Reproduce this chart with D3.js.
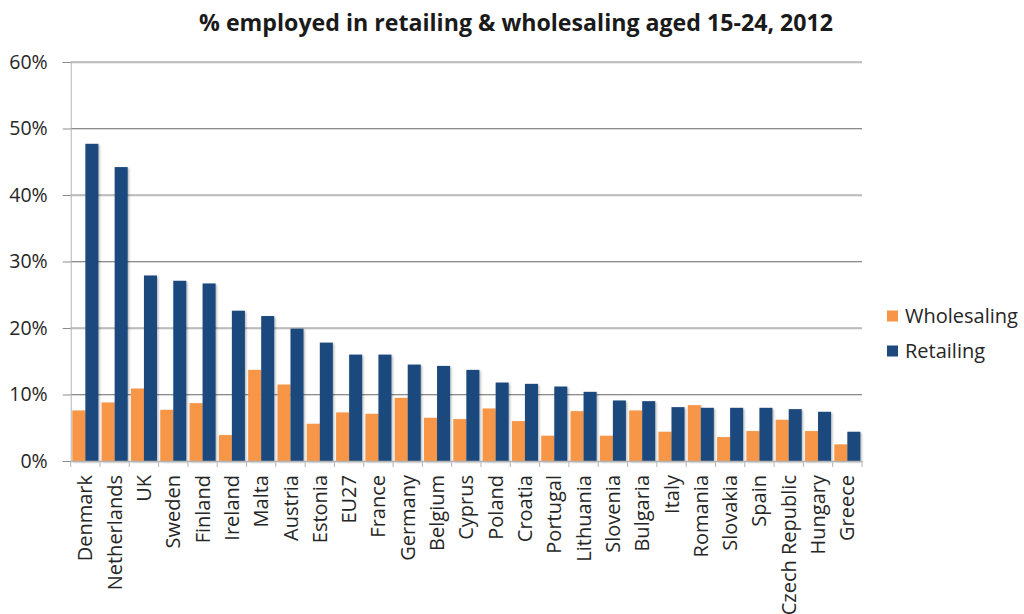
<!DOCTYPE html>
<html>
<head>
<meta charset="utf-8">
<script src="https://cdn.jsdelivr.net/npm/d3@7"></script>
<style>
  html, body { margin: 0; padding: 0; background: #fff; }
  svg { display: block; font-family: "Open Sans", "Noto Sans", sans-serif; }
</style>
</head>
<body>
<svg id="chart" width="1024" height="614"></svg>
<script>
// Share of 15-24 year olds employed in each sector, by country (%)
const countries = ["Denmark","Netherlands","UK","Sweden","Finland","Ireland","Malta","Austria","Estonia","EU27","France","Germany","Belgium","Cyprus","Poland","Croatia","Portugal","Lithuania","Slovenia","Bulgaria","Italy","Romania","Slovakia","Spain","Czech Republic","Hungary","Greece"];
const wholesaling = [7.6,8.8,10.9,7.7,8.7,3.9,13.7,11.5,5.6,7.3,7.1,9.5,6.5,6.3,7.9,6.0,3.8,7.5,3.8,7.6,4.4,8.4,3.6,4.5,6.2,4.5,2.5];
const retailing   = [47.7,44.2,27.9,27.1,26.7,22.6,21.8,19.9,17.8,16.0,16.0,14.5,14.3,13.7,11.8,11.6,11.2,10.4,9.1,9.0,8.1,8.0,8.0,8.0,7.8,7.4,4.4];
const seriesNames = ["Wholesaling","Retailing"];
const seriesColors = ["#F79646","#1F497D"];
const yTicks = [0,10,20,30,40,50,60];
const title = "% employed in retailing & wholesaling aged 15-24, 2012";

const svg = d3.select("#chart");
const margin = {left: 70.7, right: 162, top: 62, bottom: 153};
const W = 1024, H = 614;

// Bar shadow
const defs = svg.append("defs");
const f = defs.append("filter").attr("id","shadow").attr("x","-20%").attr("y","-5%").attr("width","150%").attr("height","115%");
f.append("feDropShadow").attr("dx",1.2).attr("dy",1.2).attr("stdDeviation",0.8).attr("flood-color","#000").attr("flood-opacity",0.3);

const x = d3.scaleBand().domain(countries).range([margin.left, W - margin.right]).paddingInner(0).paddingOuter(0);
const xs = d3.scaleBand().domain(seriesNames).range([0, x.bandwidth()]).paddingInner(0).paddingOuter(0.125);
const y = d3.scaleLinear().domain([0,60]).range([H - margin.bottom, margin.top]);

// Title
svg.append("text")
  .attr("x", 516).attr("y", 31)
  .attr("text-anchor","middle")
  .attr("font-weight","bold")
  .attr("font-size", 23)
  .attr("fill","#1a1a1a")
  .attr("textLength", 634)
  .attr("lengthAdjust","spacingAndGlyphs")
  .text(title);

// Gridlines
const grid = svg.append("g");
grid.selectAll("line.shade").data(yTicks.filter(d => d > 0)).join("line")
  .attr("x1", margin.left).attr("x2", W - margin.right)
  .attr("y1", d => y(d) + 1).attr("y2", d => y(d) + 1)
  .attr("stroke","#d9d9d9").attr("stroke-width",1);
grid.selectAll("line.main").data(yTicks.filter(d => d > 0)).join("line")
  .attr("x1", margin.left).attr("x2", W - margin.right)
  .attr("y1", d => y(d)).attr("y2", d => y(d))
  .attr("stroke","#8c8c8c").attr("stroke-width",1);

// Y axis
const yAxis = svg.append("g").attr("transform", `translate(${margin.left},0)`)
  .call(d3.axisLeft(y).tickValues(yTicks).tickFormat(d => d + "%").tickSize(8).tickPadding(15));
yAxis.select(".domain").attr("stroke","#b3b3b3");
yAxis.selectAll(".tick line").attr("stroke","#8c8c8c");
yAxis.selectAll("text").attr("font-size",19.5).attr("fill","#262626").attr("font-family","Open Sans, sans-serif");

// Bars
const groups = svg.append("g").selectAll("g").data(countries).join("g")
  .attr("transform", d => `translate(${x(d)},0)`);
groups.selectAll("rect").data((d,i) => [
    {s: seriesNames[0], v: wholesaling[i]},
    {s: seriesNames[1], v: retailing[i]}
  ]).join("rect")
  .attr("x", d => xs(d.s))
  .attr("width", xs.bandwidth())
  .attr("y", d => y(d.v))
  .attr("height", d => y(0) - y(d.v))
  .attr("fill", (d,i) => seriesColors[i])
  .attr("filter","url(#shadow)");

// X axis
const xAxis = svg.append("g").attr("transform", `translate(0,${y(0)})`)
  .call(d3.axisBottom(x).tickSize(0).tickSizeOuter(0));
xAxis.select(".domain").attr("stroke","#b3b3b3").attr("stroke-width",1.5);
// ticks at band boundaries
svg.append("g").selectAll("line").data(d3.range(countries.length + 1)).join("line")
  .attr("x1", i => margin.left + i * x.step()).attr("x2", i => margin.left + i * x.step())
  .attr("y1", y(0)).attr("y2", y(0) + 6)
  .attr("stroke","#b3b3b3");
xAxis.selectAll("text")
  .attr("font-size",20).attr("fill","#262626")
  .attr("font-family","Open Sans, sans-serif")
  .attr("text-anchor","end")
  .attr("dy", null).attr("y", 0)
  .attr("transform", "translate(7,14) rotate(-90)");

// Legend
const legend = svg.append("g");
seriesNames.forEach((name, i) => {
  const ly = 316 + i * 35;
  legend.append("rect").attr("x", 887).attr("y", ly - 5.5).attr("width", 11).attr("height", 11).attr("fill", seriesColors[i]);
  legend.append("text").attr("x", 905).attr("y", ly).attr("dy","0.35em")
    .attr("font-size",20).attr("fill","#262626").text(name);
});
</script>
</body>
</html>
